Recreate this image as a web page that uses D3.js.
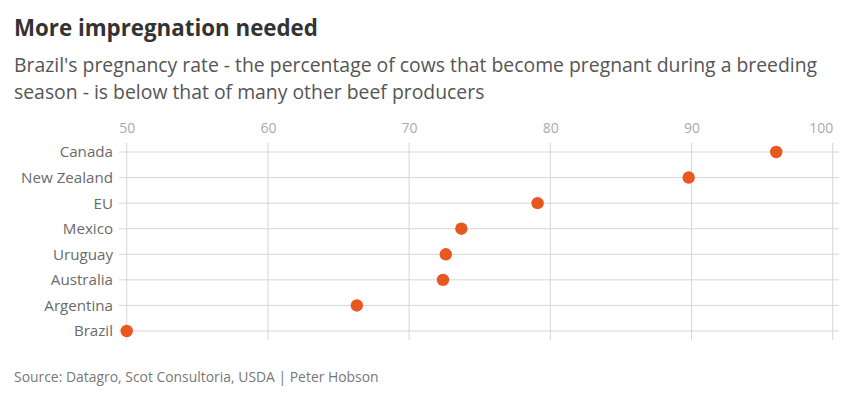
<!DOCTYPE html>
<html><head><meta charset="utf-8">
<script src="https://cdn.jsdelivr.net/npm/d3@7"></script>
<style>body{margin:0;background:#fff;} svg{display:block;font-family:"Open Sans",sans-serif;}</style>
</head><body><svg id="c" width="859" height="396"></svg>
<script>
const countries = ["Canada","New Zealand","EU","Mexico","Uruguay","Australia","Argentina","Brazil"];
const rates = [96.0, 89.8, 79.1, 73.7, 72.6, 72.4, 66.3, 50.0];
const xTicks = [50,60,70,80,90,100];

const svg = d3.select("#c");
const x = d3.scaleLinear().domain([50,100]).range([126.7,832.7]);
const y = d3.scalePoint().domain(countries).range([152,331]);

function fitText(sel, w){ const n=sel.node(); const fs=parseFloat(sel.attr("font-size")); const L=n.getComputedTextLength(); sel.attr("font-size", fs*w/L); }

const t = svg.append("text").attr("x",14).attr("y",36).attr("font-size",21).attr("font-weight",700).attr("fill","#333").text("More impregnation needed");
fitText(t, 304);
const s1 = svg.append("text").attr("x",14).attr("y",72).attr("font-size",18).attr("fill","#555").text("Brazil's pregnancy rate - the percentage of cows that become pregnant during a breeding");
fitText(s1, 804);
const s2 = svg.append("text").attr("x",14).attr("y",99).attr("font-size",s1.attr("font-size")).attr("fill","#555").text("season - is below that of many other beef producers");

// grid
const g = svg.append("g");
g.selectAll("line.v").data(xTicks).join("line").attr("x1",d=>x(d)).attr("x2",d=>x(d)).attr("y1",143).attr("y2",340).attr("stroke","#d6d6d6").attr("stroke-width",1);
g.selectAll("line.h").data(countries).join("line").attr("x1",119).attr("x2",839).attr("y1",d=>y(d)).attr("y2",d=>y(d)).attr("stroke","#d6d6d6").attr("stroke-width",1);

// top axis labels
const xa = svg.append("g").attr("transform","translate(0,133)").call(d3.axisTop(x).tickValues(xTicks).tickSize(0).tickPadding(0));
xa.select(".domain").remove();
xa.selectAll("text").attr("fill","#aaa").attr("font-size",14).attr("font-family","Open Sans, sans-serif");
xa.selectAll(".tick").filter(d=>d===100).select("text").attr("text-anchor","end");

// left axis labels
const ya = svg.append("g").attr("transform","translate(113,0)").call(d3.axisLeft(y).tickSize(0).tickPadding(0));
ya.select(".domain").remove();
ya.selectAll("text").attr("fill","#6a6a6a").attr("font-size",14.5).attr("font-family","Open Sans, sans-serif");
const nz = ya.selectAll("text").filter(d=>d==="New Zealand");
const fs = 14.5*92/nz.node().getComputedTextLength();
ya.selectAll("text").attr("font-size",fs);

svg.selectAll("circle").data(countries).join("circle").attr("cx",(d,i)=>x(rates[i])).attr("cy",d=>y(d)).attr("r",6.2).attr("fill","#e8571f");

const src = svg.append("text").attr("x",14).attr("y",382).attr("font-size",12.5).attr("fill","#777").text("Source: Datagro, Scot Consultoria, USDA | Peter Hobson");
fitText(src, 365);
</script></body></html>
